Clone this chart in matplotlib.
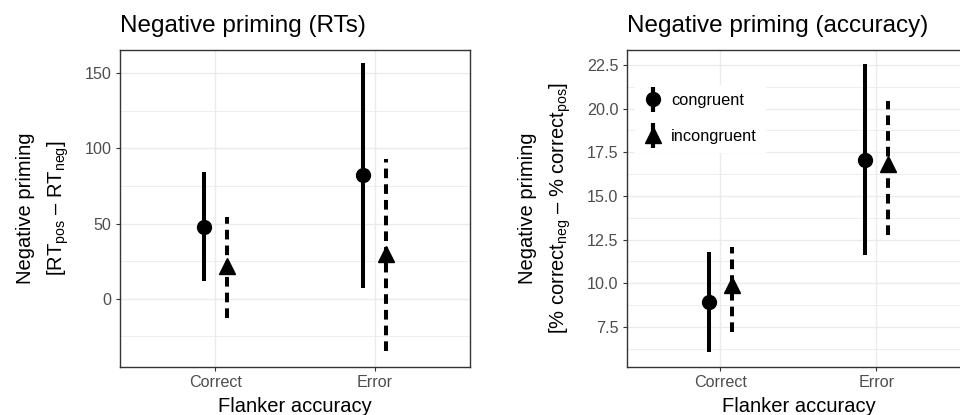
import numpy as np
import matplotlib.pyplot as plt
from matplotlib.lines import Line2D
from matplotlib.ticker import MultipleLocator

plt.rcParams['font.family'] = ['Liberation Sans', 'DejaVu Sans']
plt.rcParams['mathtext.fontset'] = 'custom'
plt.rcParams['mathtext.rm'] = 'Liberation Sans'
plt.rcParams['mathtext.it'] = 'Liberation Sans'

# dados
categorias = ['Correct', 'Error']
condicoes = ['congruent', 'incongruent']

rt_media = {'congruent': [48, 82], 'incongruent': [21.5, 30]}
rt_baixo = {'congruent': [11.5, 7.5], 'incongruent': [-12.5, -35]}
rt_alto = {'congruent': [84, 156.5], 'incongruent': [54.5, 93]}

acc_media = {'congruent': [8.93, 17.08], 'incongruent': [9.9, 16.85]}
acc_baixo = {'congruent': [6.06, 11.6], 'incongruent': [7.2, 12.75]}
acc_alto = {'congruent': [11.8, 22.55], 'incongruent': [12.1, 20.45]}

estilo = {'congruent': dict(marker='o', ms=10, ls='solid', desl=-0.075),
          'incongruent': dict(marker='^', ms=11.5, ls=(0, (2.4, 1.5)), desl=0.075)}

fig = plt.figure(figsize=(9.6, 4.15), dpi=100)
ax1 = fig.add_axes([0.125, 0.1157, 0.3646, 0.7638])
ax2 = fig.add_axes([0.653, 0.1157, 0.3573, 0.7638])


def painel(ax, media, baixo, alto):
    x = np.arange(1, len(categorias) + 1)
    for c in condicoes:
        e = estilo[c]
        ax.vlines(x + e['desl'], baixo[c], alto[c], colors='black',
                  linewidth=2.9, linestyles=[e['ls']], zorder=3)
        ax.plot(x + e['desl'], media[c], ls='none', marker=e['marker'],
                ms=e['ms'], color='black', zorder=4)
    ax.set_xlim(0.4, 2.6)
    ax.set_xticks(x)
    ax.set_xticklabels(categorias)
    ax.grid(True, which='major', color='#EBEBEB', linewidth=1.0, zorder=0)
    ax.grid(True, which='minor', axis='y', color='#EBEBEB', linewidth=0.6, zorder=0)
    ax.set_axisbelow(True)
    for s in ax.spines.values():
        s.set_color('#333333')
        s.set_linewidth(1.0)
    ax.tick_params(which='major', length=3, width=0.8, color='#333333',
                   labelsize=11.6, labelcolor='#4D4D4D', pad=3)
    ax.tick_params(which='minor', length=0)
    ax.set_xlabel('Flanker accuracy', fontsize=14.5, labelpad=5)


painel(ax1, rt_media, rt_baixo, rt_alto)
ax1.set_ylim(-45.3, 165.3)
ax1.yaxis.set_major_locator(MultipleLocator(50))
ax1.yaxis.set_minor_locator(MultipleLocator(25))
ax1.set_ylabel('Negative priming\n[RT$_{\\mathrm{pos}}$ – RT$_{\\mathrm{neg}}$]',
               fontsize=14.5, linespacing=1.6, labelpad=10)
ax1.set_title('Negative priming (RTs)', loc='left', fontsize=17.5, pad=13)

painel(ax2, acc_media, acc_baixo, acc_alto)
ax2.set_ylim(5.2, 23.36)
ax2.yaxis.set_major_locator(MultipleLocator(2.5))
ax2.yaxis.set_minor_locator(MultipleLocator(1.25))
ax2.yaxis.set_major_formatter(plt.FormatStrFormatter('%.1f'))
ax2.set_ylabel('Negative priming\n[% correct$_{\\mathrm{neg}}$ – % correct$_{\\mathrm{pos}}$]',
               fontsize=14.5, linespacing=1.6, labelpad=10)
ax2.set_title('Negative priming (accuracy)', loc='left', fontsize=17.5, pad=13)

# legenda com linha vertical atravessando o marcador
alcas = []
for c in condicoes:
    e = estilo[c]
    barra = Line2D([], [], ls='none', marker='|', ms=18, mew=3, color='black')
    ponto = Line2D([], [], ls='none', marker=e['marker'], ms=e['ms'], color='black')
    alcas.append((barra, ponto))
leg = ax2.legend(alcas, condicoes, loc='upper left', bbox_to_anchor=(0.023, 0.89),
                 borderaxespad=0, frameon=True, fancybox=False, framealpha=1,
                 edgecolor='white', facecolor='white', fontsize=11.8,
                 handlelength=1.2, handletextpad=0.5, labelspacing=1.25,
                 borderpad=0.5)

fig.savefig('out.png', dpi=100)
